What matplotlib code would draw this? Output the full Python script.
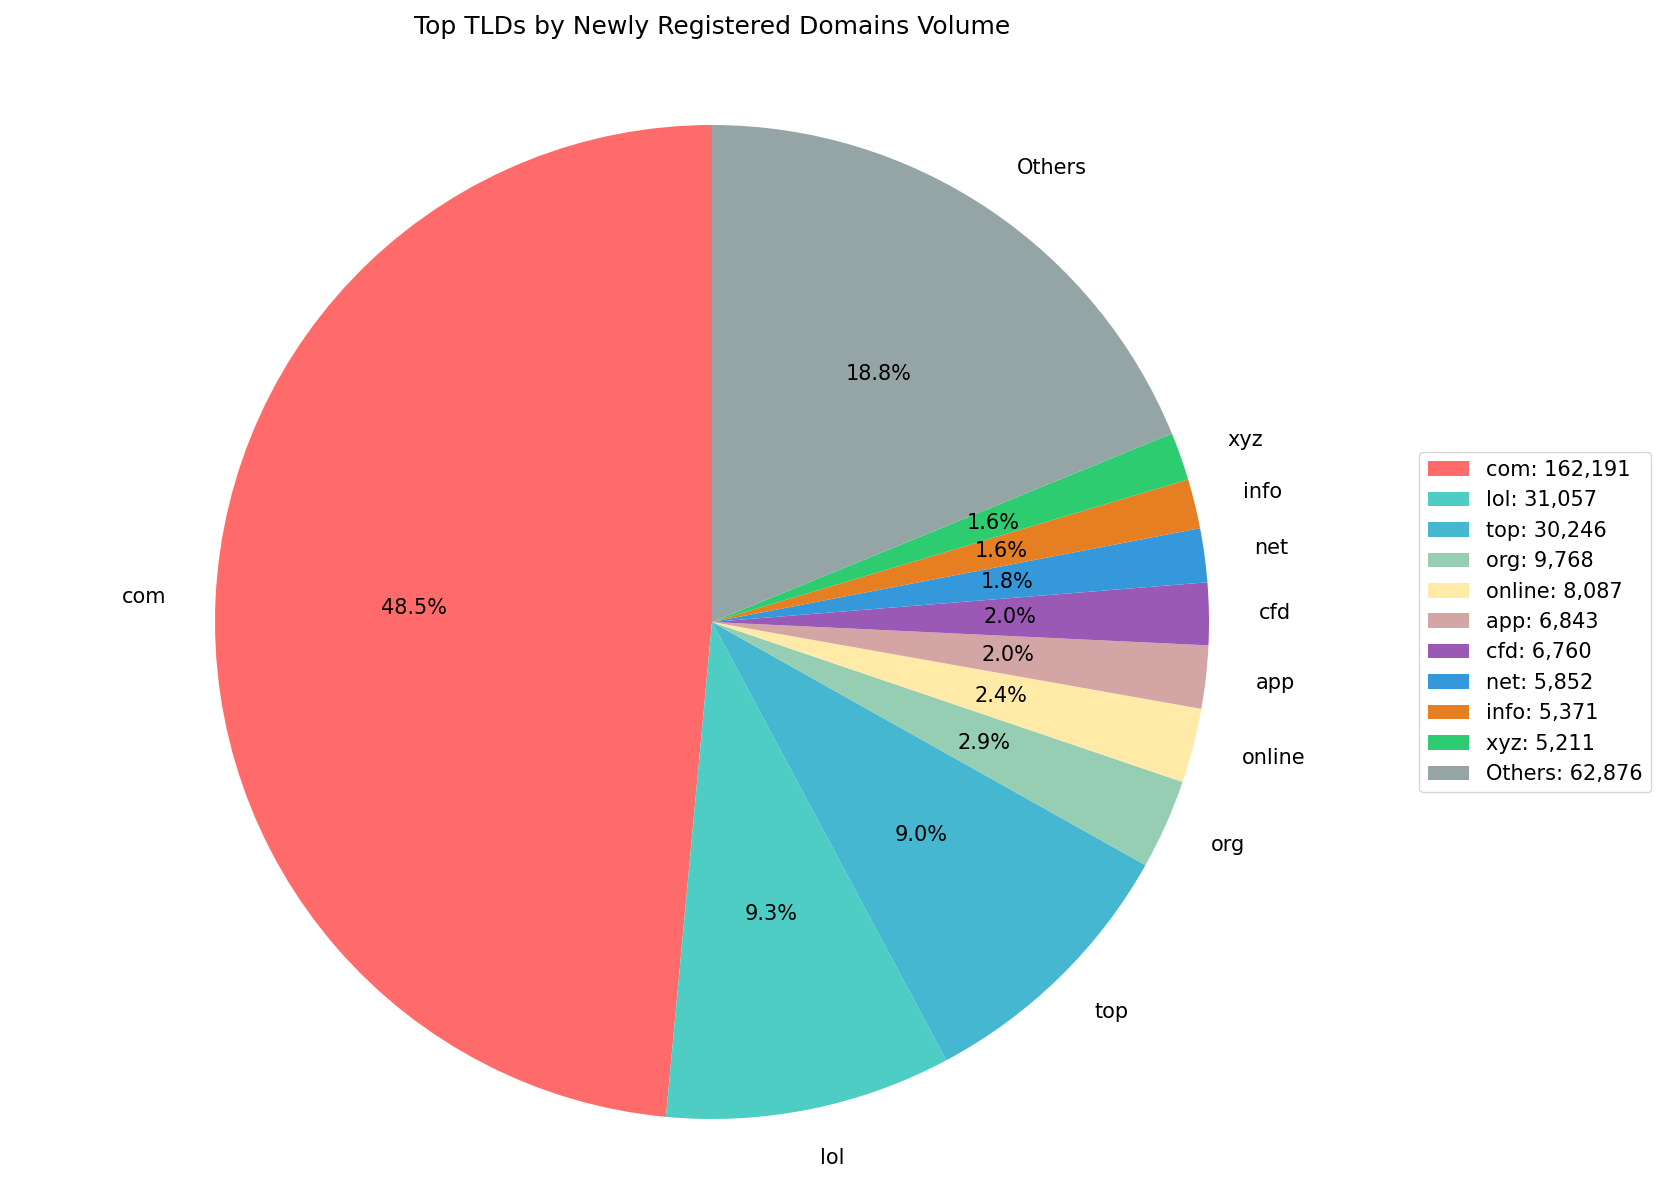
import matplotlib
matplotlib.use('Agg')
import matplotlib.pyplot as plt

tlds = ['com', 'lol', 'top', 'org', 'online', 'app', 'cfd', 'net', 'info', 'xyz', 'Others']
counts = [162191, 31057, 30246, 9768, 8087, 6843, 6760, 5852, 5371, 5211, 62876]
colors = ['#FF6B6B', '#4ECDC4', '#45B7D1', '#96CEB4', '#FFEAA7', '#D4A5A5',
          '#9B59B6', '#3498DB', '#E67E22', '#2ECC71', '#95A5A6']

W, H = 1667, 1185
fig = plt.figure(figsize=(W / 100, H / 100), dpi=100)
# pie centre at (712, 622) px from top-left, radius ~497 px; limits +-1.2
cx, cy, r = 712, 622, 497
side = r * 2.4
ax = fig.add_axes([(cx - side / 2) / W, (H - cy - side / 2) / H, side / W, side / H])
wedges, texts, autotexts = ax.pie(counts, labels=tlds, colors=colors, autopct='%1.1f%%',
                                  startangle=90, textprops={'fontsize': 15})
ax.set_xlim(-1.2, 1.2)
ax.set_ylim(-1.2, 1.2)
ax.set_aspect('equal')
fig.text(cx / W, 1 - 27 / H, 'Top TLDs by Newly Registered Domains Volume',
         fontsize=18, ha='center', va='center')
fig.legend(wedges, [f'{t}: {c:,}' for t, c in zip(tlds, counts)],
           loc='center left', bbox_to_anchor=(1409 / W, 1 - 622 / H), fontsize=15)
plt.savefig('out.png')
